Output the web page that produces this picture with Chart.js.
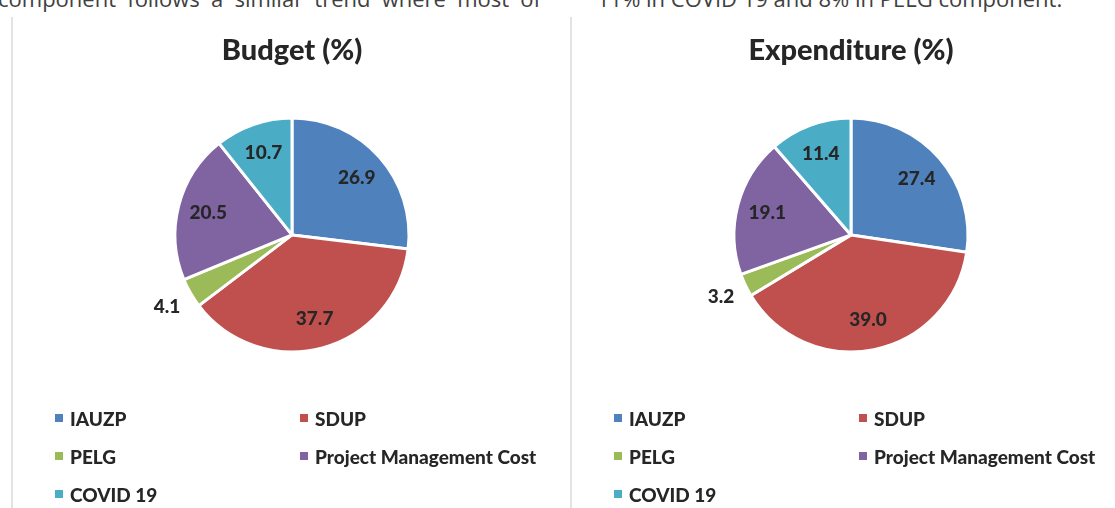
<!DOCTYPE html>
<html>
<head>
<meta charset="utf-8">
<script src="https://cdn.jsdelivr.net/npm/chart.js@4/dist/chart.umd.min.js"></script>
<style>
  body { margin: 0; width: 1115px; height: 508px; overflow: hidden; background: #fff; position: relative; font-family: Lato, sans-serif; }
  .prose { position: absolute; top: -17px; font-family: "Open Sans", sans-serif; font-size: 22px; line-height: 30px; color: #404040; white-space: nowrap; }
  .rule { position: absolute; top: 17px; width: 2px; height: 491px; background: #e3e3e3; }
  canvas { position: absolute; top: 0; }
  .legend { position: absolute; top: 399px; display: grid; grid-template-columns: 245px auto; grid-auto-rows: 38px; }
  .legend div { display: flex; align-items: center; font-weight: 900; font-size: 19px; color: #262626; white-space: nowrap; }
  .legend span { display: inline-block; width: 8px; height: 8px; margin-right: 7px; }
</style>
</head>
<body>
<div class="prose" style="left:-2px; word-spacing:5.5px;">component follows a similar trend where most of</div>
<div class="prose" style="left:597px;">11% in COVID 19 and 8% in PELG component.</div>
<div class="rule" style="left:11px;"></div>
<div class="rule" style="left:570px;"></div>
<canvas id="budgetChart" width="584" height="402" style="left:0px;"></canvas>
<canvas id="expenditureChart" width="584" height="402" style="left:559px;"></canvas>
<div class="legend" id="budgetLegend" style="left:55px;"></div>
<div class="legend" id="expenditureLegend" style="left:614px;"></div>
<script>
const components = ['IAUZP', 'SDUP', 'PELG', 'Project Management Cost', 'COVID 19'];
const budgetShare = [26.9, 37.7, 4.1, 20.5, 10.7];
const expenditureShare = [27.4, 39.0, 3.2, 19.1, 11.4];
const sliceColors = ['#4F81BD', '#C0504D', '#9BBB59', '#8064A2', '#4BACC6'];

// value labels: inside the slice, or just outside for thin slices
const sliceLabels = {
    id: 'sliceLabels',
    afterDatasetsDraw(chart) {
        const ctx = chart.ctx;
        const data = chart.data.datasets[0].data;
        ctx.save();
        ctx.font = '900 19px Lato';
        ctx.fillStyle = '#262626';
        ctx.textAlign = 'center';
        ctx.textBaseline = 'middle';
        chart.getDatasetMeta(0).data.forEach(function (arc, i) {
            const p = arc.getProps(['x', 'y', 'startAngle', 'endAngle', 'outerRadius'], true);
            const mid = (p.startAngle + p.endAngle) / 2;
            const r = data[i] < 5 ? p.outerRadius + 27 : p.outerRadius * 0.74;
            ctx.fillText(data[i].toFixed(1), p.x + Math.cos(mid) * r, p.y + Math.sin(mid) * r);
        });
        ctx.restore();
    }
};

function makePie(canvasId, title, values) {
    return new Chart(document.getElementById(canvasId), {
        type: 'pie',
        data: {
            labels: components,
            datasets: [{
                data: values,
                backgroundColor: sliceColors,
                borderColor: '#ffffff',
                borderWidth: 3,
                radius: 117
            }]
        },
        options: {
            responsive: false,
            animation: false,
            plugins: {
                legend: { display: false },
                tooltip: { enabled: false },
                title: {
                    display: true,
                    text: title,
                    color: '#262626',
                    font: { family: 'Lato', size: 29, weight: '900' },
                    padding: { top: 33, bottom: 0 }
                }
            }
        },
        plugins: [sliceLabels]
    });
}

function makeLegend(id) {
    const box = document.getElementById(id);
    components.forEach(function (name, i) {
        const item = document.createElement('div');
        item.innerHTML = '<span style="background:' + sliceColors[i] + '"></span>' + name;
        box.appendChild(item);
    });
}

makePie('budgetChart', 'Budget (%)', budgetShare);
makePie('expenditureChart', 'Expenditure (%)', expenditureShare);
makeLegend('budgetLegend');
makeLegend('expenditureLegend');
</script>
</body>
</html>
